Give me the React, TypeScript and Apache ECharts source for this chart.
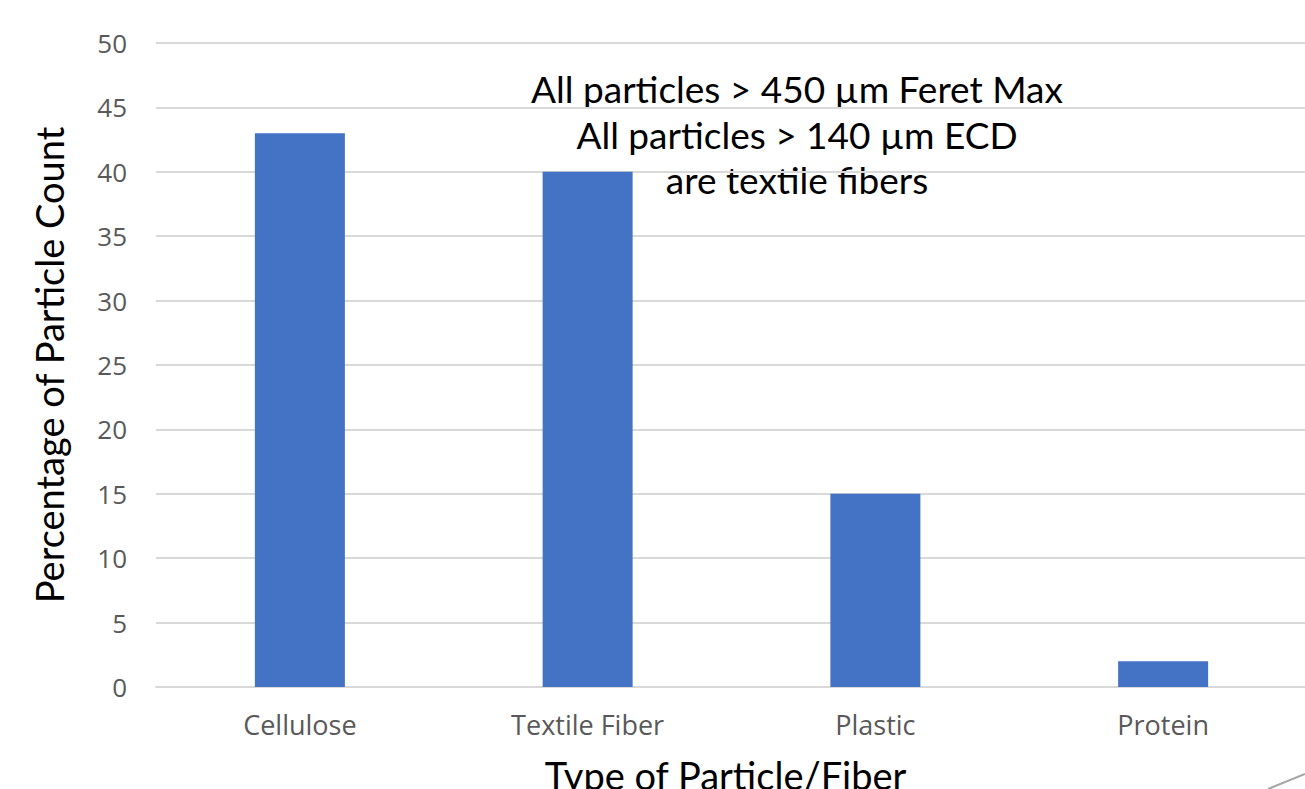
import React, { useEffect, useRef } from "react";
import * as echarts from "echarts";

const categories = ["Cellulose", "Textile Fiber", "Plastic", "Protein"];
const percentages = [43, 40, 15, 2];
const yTicks = { min: 0, max: 50, interval: 5 };
const noteLines = ["All particles > 450 µm Feret Max", "All particles > 140 µm ECD", "are textile fibers"];
const xTitle = "Type of Particle/Fiber";
const yTitle = "Percentage of Particle Count";

export default function App() {
  const ref = useRef<HTMLDivElement>(null);
  useEffect(() => {
    if (!ref.current) return;
    const chart = echarts.init(ref.current, null, { renderer: "svg" });
    chart.setOption({
      animation: false,
      backgroundColor: "#ffffff",
      grid: { left: 156, top: 43, width: 1151, height: 644, containLabel: false, outerBoundsMode: "none" },
      xAxis: {
        type: "category",
        data: categories,
        axisLine: { show: true, lineStyle: { color: "#d9d9d9", width: 2 } },
        axisTick: { show: false },
        axisLabel: { color: "#595959", fontSize: 27, fontFamily: "Open Sans", margin: 24 },
        name: xTitle,
        nameLocation: "middle",
        nameGap: 69,
        nameTextStyle: { color: "#000000", fontSize: 38, fontFamily: "Lato", padding: [0, 12, 0, 0] },
      },
      yAxis: {
        type: "value",
        min: yTicks.min,
        max: yTicks.max,
        interval: yTicks.interval,
        axisLine: { show: false },
        axisTick: { show: false },
        splitLine: { lineStyle: { color: "#d9d9d9", width: 2 } },
        axisLabel: { color: "#595959", fontSize: 26, fontFamily: "Open Sans", margin: 29 },
        name: yTitle,
        nameLocation: "middle",
        nameGap: 88,
        nameRotate: 90,
        nameTextStyle: { color: "#000000", fontSize: 38, fontFamily: "Lato" },
      },
      series: [
        {
          type: "bar",
          data: percentages,
          barWidth: 90,
          itemStyle: { color: "#4472c4" },
        },
      ],
      graphic: [
        {
          type: "text",
          x: 797,
          y: 66,
          style: {
            text: noteLines.join("\n"),
            fill: "#000000",
            fontSize: 37,
            fontFamily: "Lato",
            lineHeight: 45.5,
            align: "center",
            verticalAlign: "top",
          },
        },
        {
          type: "line",
          shape: { x1: 1268, y1: 789, x2: 1305, y2: 774 },
          style: { stroke: "#a6a6a6", lineWidth: 2 },
        },
      ],
    });
    return () => chart.dispose();
  }, []);
  return <div ref={ref} style={{ position: "fixed", left: 0, top: 0, width: 1305, height: 789 }} />;
}
